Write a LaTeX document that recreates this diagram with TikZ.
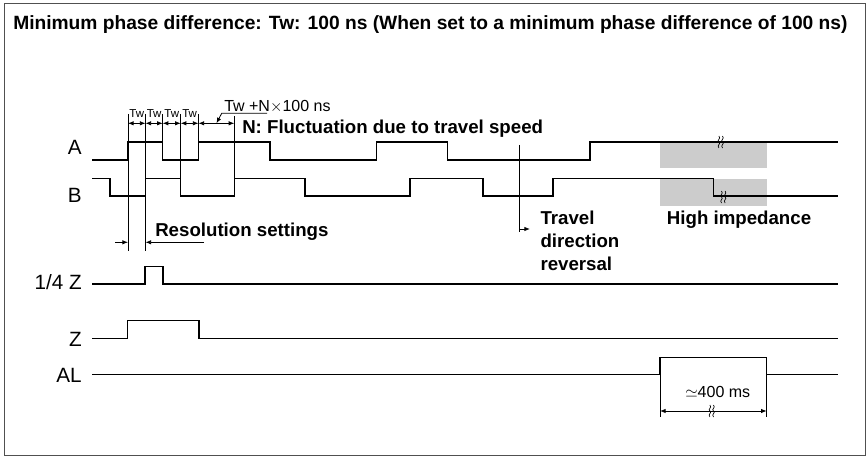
\documentclass[tikz,border=0pt]{standalone}
\usepackage{fontspec}
\setmainfont{Liberation Sans}
\usetikzlibrary{arrows.meta}

\tikzset{
  wave/.style={line width=1pt},
  extline/.style={line width=0.6pt},
  dimarrow/.style={line width=0.6pt,{Latex[length=4.2pt,width=3.3pt]}-{Latex[length=4.2pt,width=3.3pt]}},
  onearrow/.style={line width=0.6pt,-{Latex[length=4.2pt,width=3.3pt]}},
  hiz/.style={fill=black!20,draw=none},
  siglbl/.style={anchor=base east,inner sep=0.75pt,font=\fontsize{15.5}{18}\selectfont},
  boldtxt/.style={anchor=base west,inner sep=0.75pt,font=\bfseries\fontsize{14}{17}\selectfont},
  twtxt/.style={anchor=base,inner sep=0.5pt,font=\fontsize{8.6}{10}\selectfont},
  brk/.pic={
    \draw[line width=0.5pt] (-1.8,-6) .. controls (-4.5,-3) and (0.9,-2) .. (-1.8,0) .. controls (-4.5,2) and (0.9,3) .. (-1.8,6);
    \draw[line width=0.5pt] (1.8,-6) .. controls (-0.9,-3) and (4.5,-2) .. (1.8,0) .. controls (-0.9,2) and (4.5,3) .. (1.8,6);
  }
}

\begin{document}
\begin{tikzpicture}[x=0.75pt,y=0.75pt,yscale=-1,xscale=1]
\useasboundingbox (0,0) rectangle (868,456);

%Shape: Rectangle [frame]
\draw [color={rgb, 255:red, 80; green, 80; blue, 80 }, line width=0.6pt] (4.5,3) rectangle (865.5,455);

% Text Node
\draw (12,30) node [anchor=base west][inner sep=0.75pt][font=\bfseries\fontsize{14.4}{17}\selectfont] (title) {Minimum phase difference: Tw: 100 ns (When set to a minimum phase difference of 100 ns)};

%Shape: Rectangle [high impedance A]
\fill [hiz] (660,142.7) rectangle (766.7,168.3);
%Shape: Rectangle [high impedance B]
\fill [hiz] (660,179.3) rectangle (766.7,206);

%Straight Lines [signal A]
\draw [wave] (92,160) -- (128,160) -- (128,142) -- (162.7,142) -- (162.7,160) -- (198.5,160) -- (198.5,142) -- (270,142) -- (270,160) -- (376.7,160) -- (376.7,142) -- (447.3,142) -- (447.3,160) -- (590,160) -- (590,142) -- (838,142) ;
%Straight Lines [signal B]
\draw [wave] (92,178.3) -- (110,178.3) -- (110,196) -- (145.5,196) -- (145.5,178.3) -- (180.7,178.3) -- (180.7,196) -- (234.3,196) -- (234.3,178.3) -- (305,178.3) -- (305,196) -- (410,196) -- (410,178.3) -- (483,178.3) -- (483,196) -- (553,196) -- (553,178.3) -- (713.3,178.3) -- (713.3,196) -- (838,196) ;
%Straight Lines [signal 1/4 Z]
\draw [wave] (92,284) -- (145,284) -- (145,266.5) -- (163,266.5) -- (163,284) -- (838,284) ;
%Straight Lines [signal Z]
\draw [wave] (92,338.3) -- (127.7,338.3) -- (127.7,320.7) -- (199,320.7) -- (199,338.3) -- (838,338.3) ;
%Straight Lines [signal AL]
\draw [wave] (92,374.7) -- (660,374.7) -- (660,357.3) -- (766.7,357.3) -- (766.7,374.7) -- (838,374.7) ;

% Text Node
\draw (83,155) node [siglbl] (lblA) {A};
\draw (83,202.7) node [siglbl] (lblB) {B};
\draw (83,290) node [siglbl] (lblQZ) {1/4 Z};
\draw (83,346.3) node [siglbl] (lblZ) {Z};
\draw (83,382) node [siglbl] (lblAL) {AL};

%Straight Lines [extension lines]
\draw [extline] (128,114) -- (128,250.7) ;
\draw [extline] (145.5,114) -- (145.5,250.7) ;
\draw [extline] (162.7,114) -- (162.7,142) ;
\draw [extline] (180.7,114) -- (180.7,178.3) ;
\draw [extline] (198.5,114) -- (198.5,142) ;
\draw [extline] (234.3,116) -- (234.3,178.3) ;

%Straight Lines [Tw dimensions]
\draw [dimarrow] (128,123.3) -- (145.5,123.3) ;
\draw [dimarrow] (145.5,123.3) -- (162.7,123.3) ;
\draw [dimarrow] (162.7,123.3) -- (180.7,123.3) ;
\draw [dimarrow] (180.7,123.3) -- (198.5,123.3) ;
\draw [dimarrow] (198.5,123.3) -- (234.3,123.3) ;

% Text Node
\draw (136.8,117.3) node [twtxt] (tw1) {Tw};
\draw (154.1,117.3) node [twtxt] (tw2) {Tw};
\draw (171.7,117.3) node [twtxt] (tw3) {Tw};
\draw (189.6,117.3) node [twtxt] (tw4) {Tw};

%Straight Lines [leader Tw +N]
\draw [onearrow] (267,113.3) -- (221.7,113.3) -- (216.5,123.3) ;
% Text Node
\draw (223,111.3) node [anchor=base west][inner sep=0.75pt][font=\fontsize{12}{14}\selectfont] (twn) {Tw +N$\times$100 ns};
\draw (241,133.3) node [boldtxt] (fluct) {N: Fluctuation due to travel speed};

%Straight Lines [resolution settings]
\draw [onearrow] (115,242.3) -- (128,242.3) ;
\draw [onearrow] (204,242.3) -- (145.5,242.3) ;
% Text Node
\draw (154,236.7) node [boldtxt] (resol) {Resolution settings};

%Straight Lines [travel direction reversal]
\draw [extline] (519.3,145) -- (519.3,231.7) ;
\draw [onearrow] (519.3,229) -- (530,229) ;
% Text Node
\draw (539.3,224) node [boldtxt] (rev1) {Travel};
\draw (539.3,247.3) node [boldtxt] (rev2) {direction};
\draw (539.3,270.6) node [boldtxt] (rev3) {reversal};
\draw (665.7,224.3) node [boldtxt] (hiimp) {High impedance};

%Curve Lines [break marks]
\pic at (720.7,142) {brk};
\pic at (723.3,197) {brk};

%Straight Lines [alarm width]
\draw [extline] (660,374.7) -- (660,417) ;
\draw [extline] (766.7,374.7) -- (766.7,417) ;
\draw [dimarrow] (660,411) -- (766.7,411) ;
\pic at (711.7,411) {brk};
% Text Node
\draw (684,397.7) node [anchor=base west][inner sep=0.75pt][font=\fontsize{12}{14}\selectfont] (alms) {$\simeq$400 ms};

\end{tikzpicture}
\end{document}
